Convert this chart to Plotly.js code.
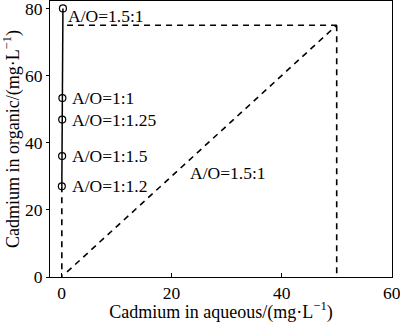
<!DOCTYPE html>
<html>
<head>
<meta charset="utf-8">
<script src="https://cdn.plot.ly/plotly-3.0.1.min.js"></script>
<style>html,body{margin:0;padding:0;background:#fff;}#chart{width:400px;height:323px;}</style>
</head>
<body>
<div id="chart"></div>
<script>
// Equilibrium points (A/O ratios)
const pointLabels = ["A/O=1.5:1", "A/O=1:1", "A/O=1:1.25", "A/O=1:1.5", "A/O=1:1.2"];
const pointAq = [0.25, 0.15, 0.12, 0.1, 0.05];
const pointOrg = [80, 53.3, 46.9, 36, 27];

// Operating line A/O=1.5:1
const opAq = [1, 50];
const opOrg = [1.5, 75];

// Construction dashed lines
const hLineAq = [1, 50];
const hLineOrg = [75, 75];
const vRightAq = [50, 50];
const vRightOrg = [75, 0];
const vLeftAq = [0.05, 0.05];
const vLeftOrg = [27, 0];

const FONT = "Liberation Serif, Times New Roman, serif";
const dash = {color: "#000", width: 1.6, dash: "6px,5px"};

const traces = [
  {x: pointAq, y: pointOrg, mode: "lines+markers", type: "scatter",
   line: {color: "#000", width: 1.5},
   marker: {symbol: "circle-open", size: 7, color: "#000", line: {width: 1.2, color: "#000"}},
   hoverinfo: "none"},
  {x: opAq, y: opOrg, mode: "lines", line: dash, hoverinfo: "none"},
  {x: hLineAq, y: hLineOrg, mode: "lines", line: dash, hoverinfo: "none"},
  {x: vRightAq, y: vRightOrg, mode: "lines", line: dash, hoverinfo: "none"},
  {x: vLeftAq, y: vLeftOrg, mode: "lines", line: dash, hoverinfo: "none"}
];

const annotations = pointLabels.map((t, i) => ({
  x: pointAq[i], y: pointOrg[i], xref: "x", yref: "y",
  text: t, showarrow: false, xanchor: "left", yanchor: "middle",
  xshift: i === 0 ? 3 : 8, yshift: i === 0 ? -8 : 0,
  font: {family: FONT, size: 17.5, color: "#000"}
}));
annotations.push({
  x: 23, y: 31, xref: "x", yref: "y", text: "A/O=1.5:1", showarrow: false,
  xanchor: "left", yanchor: "middle", font: {family: FONT, size: 17.5, color: "#000"}
});

const layout = {
  width: 400, height: 323,
  margin: {l: 50, r: 8, t: 1, b: 46},
  paper_bgcolor: "#fff", plot_bgcolor: "#fff",
  showlegend: false,
  font: {family: FONT, size: 17, color: "#000"},
  xaxis: {
    range: [-2.1, 60.05], tickvals: [0, 20, 40, 60],
    ticks: "inside", ticklen: 4, tickcolor: "#000",
    showline: true, mirror: true, linecolor: "#000", linewidth: 1,
    showgrid: false, zeroline: false, ticklabeloverflow: "allow",
    tickfont: {family: FONT, size: 17.5, color: "#000"},
    title: {text: "Cadmium in aqueous/(mg·L<sup>−1</sup>)", font: {family: FONT, size: 18, color: "#000"}, standoff: 3}
  },
  yaxis: {
    range: [0, 82.2], tickvals: [0, 20, 40, 60, 80],
    ticks: "outside", ticklen: 3, tickcolor: "#000",
    showline: true, mirror: true, linecolor: "#000", linewidth: 1,
    showgrid: false, zeroline: false, ticklabeloverflow: "allow",
    tickfont: {family: FONT, size: 17.5, color: "#000"},
    title: {text: "Cadmium in organic/(mg·L<sup>−1</sup>)", font: {family: FONT, size: 18, color: "#000"}, standoff: 4}
  },
  annotations: annotations
};

Plotly.newPlot("chart", traces, layout, {staticPlot: true, displayModeBar: false});
</script>
</body>
</html>
